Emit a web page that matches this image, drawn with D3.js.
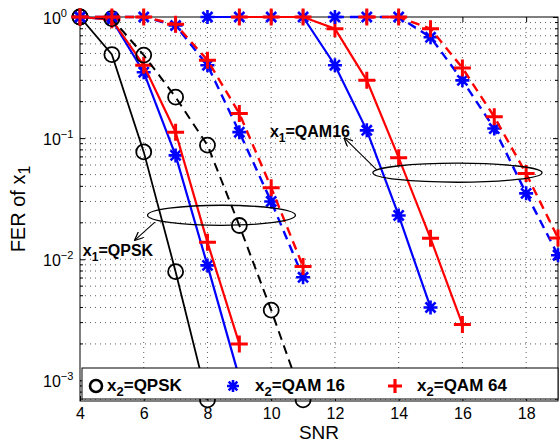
<!DOCTYPE html>
<html>
<head>
<meta charset="UTF-8">
<title>FER of x1</title>
<style>
    body { margin: 0; background: #fff; }
    svg { font-family: "Liberation Sans", Arial, sans-serif; }
    .tick text { font-size: 16px; font-family: "Liberation Sans", Arial, sans-serif; fill: #000; }
</style>
</head>
<body>
<div id="chart"></div>
<script src="https://d3js.org/d3.v7.min.js"></script>
<script>
// SNR grids and FER values
var snrQpskBlackSolid = [4, 5, 6, 7, 8];
var ferQpskBlackSolid = [1, 0.49, 0.077, 0.0079, 0.00069];

var snrBlackDashed = [4, 5, 6, 7, 8, 9, 10, 11];
var ferBlackDashed = [1, 0.97, 0.485, 0.218, 0.0875, 0.019, 0.0038, 0.00069];

var snrLeftSolid = [4, 5, 6, 7, 8, 9];
var ferBlueLeftSolid = [1, 0.95, 0.35, 0.072, 0.0089, 0.00105];
var ferRedLeftSolid = [1, 0.95, 0.40, 0.112, 0.0138, 0.0020];

var snrLeftDashed = [4, 5, 6, 7, 8, 9, 10, 11];
var ferBlueLeftDashed = [1, 1, 1, 0.85, 0.40, 0.112, 0.030, 0.0071];
var ferRedLeftDashed = [1, 1, 1, 0.87, 0.44, 0.16, 0.039, 0.0087];

var snrBlueRightSolid = [8, 9, 10, 11, 12, 13, 14, 15];
var ferBlueRightSolid = [1, 1, 1, 1, 0.40, 0.116, 0.023, 0.004];
var snrRedRightSolid = [9, 10, 11, 12, 13, 14, 15, 16];
var ferRedRightSolid = [1, 1, 1, 0.80, 0.30, 0.069, 0.0149, 0.0029];

var snrBlueRightDashed = [12, 13, 14, 15, 16, 17, 18, 19];
var ferBlueRightDashed = [1, 1, 1, 0.68, 0.30, 0.12, 0.035, 0.0108];
var snrRedRightDashed = [13, 14, 15, 16, 17, 18, 19];
var ferRedRightDashed = [1, 1, 0.80, 0.38, 0.15, 0.051, 0.015];

var xTicks = [4, 6, 8, 10, 12, 14, 16, 18];
var yTicks = [1, 0.1, 0.01, 0.001];
var yTickExp = ["0", "\u22121", "\u22122", "\u22123"];

var legendLabels = ["=QPSK", "=QAM 16", "=QAM 64"];

var width = 560, height = 443;
var plot = { left: 80, right: 558, top: 17, bottom: 401 };

var svg = d3.select("#chart").append("svg")
    .attr("width", width)
    .attr("height", height);

var x = d3.scaleLinear().domain([4, 19]).range([plot.left, plot.right]);
var y = d3.scaleLog().domain([6.76e-4, 1]).range([plot.bottom, plot.top]);

// grid (dotted, matlab style)
var minorY = [];
for (var k = -4; k <= 0; k++) {
    for (var m = 1; m <= 9; m++) {
        var v = m * Math.pow(10, k);
        if (v > y.domain()[0] && v < 1) minorY.push(v);
    }
}
var grid = svg.append("g").attr("stroke", "#333").attr("stroke-width", 0.8)
    .attr("stroke-dasharray", "1,4");
grid.selectAll(".gy").data(minorY).enter().append("line")
    .attr("x1", plot.left).attr("x2", plot.right)
    .attr("y1", function (d) { return y(d); }).attr("y2", function (d) { return y(d); });
grid.selectAll(".gx").data(xTicks.slice(1)).enter().append("line")
    .attr("y1", plot.top).attr("y2", plot.bottom)
    .attr("x1", function (d) { return x(d); }).attr("x2", function (d) { return x(d); });

// axes
var xAxis = svg.append("g")
    .attr("transform", "translate(0," + plot.bottom + ")")
    .call(d3.axisBottom(x).tickValues(xTicks).tickSizeInner(-5).tickSizeOuter(0).tickPadding(7));
xAxis.select(".domain").remove();

svg.append("g")
    .attr("transform", "translate(0," + plot.top + ")")
    .call(d3.axisTop(x).tickValues(xTicks).tickSizeInner(-5).tickSizeOuter(0).tickFormat(""))
    .select(".domain").remove();

var yAxis = svg.append("g")
    .attr("transform", "translate(" + plot.left + ",0)")
    .call(d3.axisLeft(y).tickValues(yTicks).tickSizeInner(-5).tickSizeOuter(0));
yAxis.select(".domain").remove();
yAxis.selectAll(".tick text").each(function (d) {
    var t = d3.select(this);
    t.text(null)
        .attr("text-anchor", "start")
        .attr("x", -37)
        .attr("dy", "0.38em");
    t.append("tspan").text("10");
    t.append("tspan").attr("dy", "-0.6em").attr("font-size", "11px").text(yTickExp[yTicks.indexOf(d)]);
});

svg.append("g")
    .attr("transform", "translate(" + plot.right + ",0)")
    .call(d3.axisRight(y).tickValues(yTicks).tickSizeInner(-5).tickSizeOuter(0).tickFormat(""))
    .select(".domain").remove();

// minor y ticks both sides
var minorTicks = minorY.filter(function (d) { return Math.abs(Math.log10(d) - Math.round(Math.log10(d))) > 1e-9; });
svg.append("g").selectAll("line").data(minorTicks).enter().append("line")
    .attr("x1", plot.left).attr("x2", plot.left + 3)
    .attr("y1", function (d) { return y(d); }).attr("y2", function (d) { return y(d); })
    .attr("stroke", "#000");
svg.append("g").selectAll("line").data(minorTicks).enter().append("line")
    .attr("x1", plot.right).attr("x2", plot.right - 3)
    .attr("y1", function (d) { return y(d); }).attr("y2", function (d) { return y(d); })
    .attr("stroke", "#000");

svg.append("rect")
    .attr("x", plot.left).attr("y", plot.top)
    .attr("width", plot.right - plot.left).attr("height", plot.bottom - plot.top)
    .attr("fill", "none").attr("stroke", "#000").attr("stroke-width", 1);

// marker shapes
function circlePath(r) {
    return "M" + (-r) + ",0A" + r + "," + r + " 0 1,0 " + r + ",0A" + r + "," + r + " 0 1,0 " + (-r) + ",0";
}
function starPath(r) {
    var d = r * 0.72;
    return "M" + (-r) + ",0H" + r + "M0," + (-r) + "V" + r +
        "M" + (-d) + "," + (-d) + "L" + d + "," + d + "M" + (-d) + "," + d + "L" + d + "," + (-d);
}
function plusPath(r) {
    return "M" + (-r) + ",0H" + r + "M0," + (-r) + "V" + r;
}

var markers = {
    circle: { path: circlePath(7.5), width: 1.8 },
    star: { path: starPath(7), width: 2.6 },
    plus: { path: plusPath(8.5), width: 3 }
};

var series = [
    { snr: snrQpskBlackSolid, fer: ferQpskBlackSolid, color: "#000", dash: null, marker: "circle", lw: 1.8 },
    { snr: snrLeftSolid, fer: ferBlueLeftSolid, color: "#0000ff", dash: null, marker: "star", lw: 2.2 },
    { snr: snrLeftSolid, fer: ferRedLeftSolid, color: "#ff0000", dash: null, marker: "plus", lw: 2.2 },
    { snr: snrBlackDashed, fer: ferBlackDashed, color: "#000", dash: "9,6", marker: "circle", lw: 2 },
    { snr: snrLeftDashed, fer: ferBlueLeftDashed, color: "#0000ff", dash: "9,6", marker: "star", lw: 2.4 },
    { snr: snrLeftDashed, fer: ferRedLeftDashed, color: "#ff0000", dash: "9,6", marker: "plus", lw: 2.4 },
    { snr: snrBlueRightSolid, fer: ferBlueRightSolid, color: "#0000ff", dash: null, marker: "star", lw: 2.2 },
    { snr: snrRedRightSolid, fer: ferRedRightSolid, color: "#ff0000", dash: null, marker: "plus", lw: 2.2 },
    { snr: snrBlueRightDashed, fer: ferBlueRightDashed, color: "#0000ff", dash: "9,6", marker: "star", lw: 2.4 },
    { snr: snrRedRightDashed, fer: ferRedRightDashed, color: "#ff0000", dash: "9,6", marker: "plus", lw: 2.4 }
];

var line = d3.line()
    .x(function (d) { return x(d[0]); })
    .y(function (d) { return y(d[1]); });

series.forEach(function (s) {
    var pts = d3.zip(s.snr, s.fer);
    var g = svg.append("g");
    g.append("path")
        .attr("d", line(pts))
        .attr("fill", "none")
        .attr("stroke", s.color)
        .attr("stroke-width", s.lw)
        .attr("stroke-dasharray", s.dash);
    g.selectAll("path.mk").data(pts).enter().append("path")
        .attr("class", "mk")
        .attr("transform", function (d) { return "translate(" + x(d[0]) + "," + y(d[1]) + ")"; })
        .attr("d", markers[s.marker].path)
        .attr("fill", "none")
        .attr("stroke", s.color)
        .attr("stroke-width", markers[s.marker].width);
});

// annotations (data coordinates)
function subText(sel, main, sub, rest, size) {
    sel.append("tspan").text(main);
    sel.append("tspan").attr("dy", 5).attr("font-size", (size - 4) + "px").text(sub);
    sel.append("tspan").attr("dy", -5).text(rest);
}

function ellipse(x0, x1, y0, y1) {
    var cx = (x(x0) + x(x1)) / 2, cy = (y(y0) + y(y1)) / 2;
    svg.append("ellipse")
        .attr("cx", cx).attr("cy", cy)
        .attr("rx", Math.abs(x(x1) - x(x0)) / 2).attr("ry", Math.abs(y(y1) - y(y0)) / 2)
        .attr("fill", "none").attr("stroke", "#000").attr("stroke-width", 1.3);
}

svg.append("defs").append("marker")
    .attr("id", "arrow").attr("viewBox", "0 -5 10 10")
    .attr("refX", 9).attr("refY", 0)
    .attr("markerWidth", 9).attr("markerHeight", 9)
    .attr("markerUnits", "userSpaceOnUse")
    .attr("orient", "auto")
    .append("path").attr("d", "M0,-4.5L10,0L0,4.5").attr("fill", "none")
    .attr("stroke", "#000").attr("stroke-width", 1.4);

function arrow(xa, ya, xb, yb) {
    svg.append("line")
        .attr("x1", x(xa)).attr("y1", y(ya))
        .attr("x2", x(xb)).attr("y2", y(yb))
        .attr("stroke", "#000").attr("stroke-width", 1.1)
        .attr("marker-end", "url(#arrow)");
}

ellipse(6.12, 10.76, Math.pow(10, -1.554), Math.pow(10, -1.72));
arrow(6.35, Math.pow(10, -1.694), 5.73, Math.pow(10, -1.84));
svg.append("text")
    .attr("x", x(4.09)).attr("y", y(Math.pow(10, -1.975)))
    .attr("font-size", "16px").attr("font-weight", "bold")
    .call(subText, "x", "1", "=QPSK", 16);

ellipse(13.19, 18.5, Math.pow(10, -1.207), Math.pow(10, -1.364));
arrow(13.32, Math.pow(10, -1.264), 12.3, Math.pow(10, -1.0));
svg.append("text")
    .attr("x", x(9.96)).attr("y", y(Math.pow(10, -0.99)))
    .attr("font-size", "16px").attr("font-weight", "bold")
    .call(subText, "x", "1", "=QAM16", 16);

// legend
var leg = svg.append("g");
leg.append("rect")
    .attr("x", plot.left + 2).attr("y", 368)
    .attr("width", plot.right - plot.left - 2).attr("height", 31)
    .attr("fill", "#fff").attr("stroke", "#000").attr("stroke-width", 1);

var legItems = [
    { color: "#000", mx: 96, tx: 107, label: legendLabels[0], path: circlePath(6), w: 2.6 },
    { color: "#0000ff", mx: 233, tx: 255, label: legendLabels[1], path: starPath(6), w: 2.6 },
    { color: "#ff0000", mx: 395, tx: 417, label: legendLabels[2], path: plusPath(7), w: 3.2 }
];
legItems.forEach(function (it) {
    leg.append("path")
        .attr("transform", "translate(" + it.mx + ",386)")
        .attr("d", it.path)
        .attr("fill", "none").attr("stroke", it.color).attr("stroke-width", it.w);
    leg.append("text")
        .attr("x", it.tx).attr("y", 391)
        .attr("font-size", "17px").attr("font-weight", "bold")
        .call(subText, "x", "2", it.label, 17);
});

// axis labels
svg.append("text")
    .attr("x", (plot.left + plot.right) / 2).attr("y", 439)
    .attr("text-anchor", "middle").attr("font-size", "19px")
    .text("SNR");

svg.append("text")
    .attr("transform", "translate(25," + ((plot.top + plot.bottom) / 2) + ") rotate(-90)")
    .attr("text-anchor", "middle").attr("font-size", "20px")
    .call(subText, "FER of x", "1", "", 20);
</script>
</body>
</html>
